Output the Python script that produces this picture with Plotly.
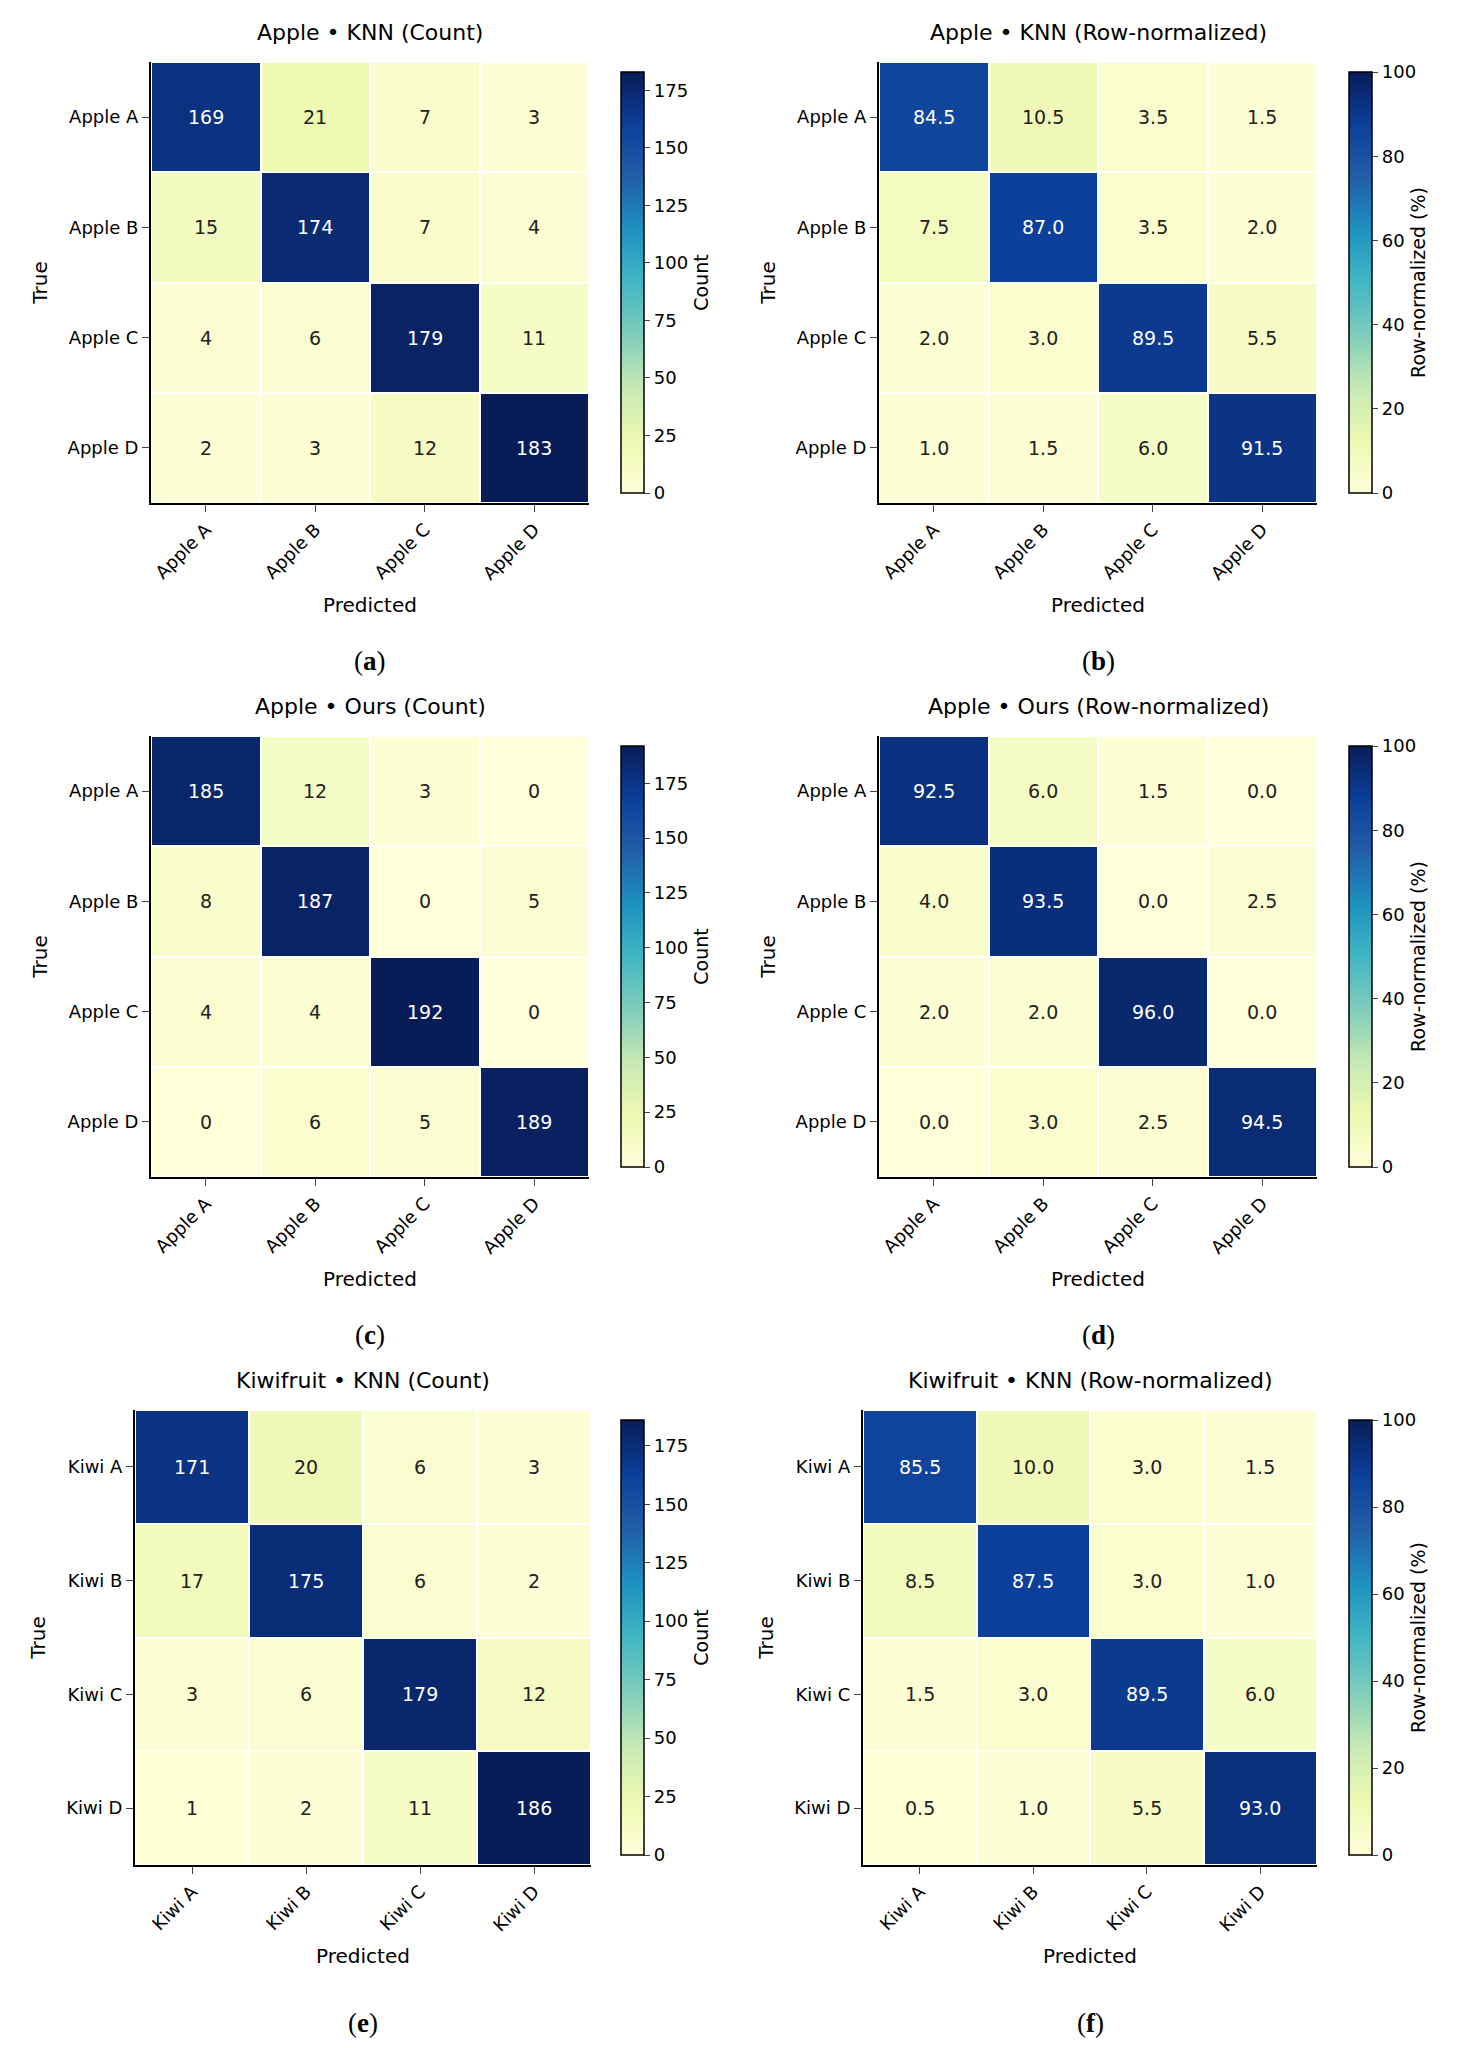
import plotly.graph_objects as go

W, H = 1464, 2048
apple = ["Apple A", "Apple B", "Apple C", "Apple D"]
kiwi = ["Kiwi A", "Kiwi B", "Kiwi C", "Kiwi D"]

apple_knn = [[169, 21, 7, 3], [15, 174, 7, 4], [4, 6, 179, 11], [2, 3, 12, 183]]
apple_knn_n = [[84.5, 10.5, 3.5, 1.5], [7.5, 87.0, 3.5, 2.0], [2.0, 3.0, 89.5, 5.5], [1.0, 1.5, 6.0, 91.5]]
apple_ours = [[185, 12, 3, 0], [8, 187, 0, 5], [4, 4, 192, 0], [0, 6, 5, 189]]
apple_ours_n = [[92.5, 6.0, 1.5, 0.0], [4.0, 93.5, 0.0, 2.5], [2.0, 2.0, 96.0, 0.0], [0.0, 3.0, 2.5, 94.5]]
kiwi_knn = [[171, 20, 6, 3], [17, 175, 6, 2], [3, 6, 179, 12], [1, 2, 11, 186]]
kiwi_knn_n = [[85.5, 10.0, 3.0, 1.5], [8.5, 87.5, 3.0, 1.0], [1.5, 3.0, 89.5, 6.0], [0.5, 1.0, 5.5, 93.0]]

ylgnbu = ["#ffffd9", "#edf8b1", "#c7e9b4", "#7fcdbb", "#41b6c4", "#1d91c0", "#225ea8", "#0c3f9a", "#081d58"]
cs = [[i / 8, c] for i, c in enumerate(ylgnbu)]

panels = [
    ("Apple • KNN (Count)", apple, apple_knn, False, (143, 581), (54, 495), (603, 626), "a"),
    ("Apple • KNN (Row-normalized)", apple, apple_knn_n, True, (871, 1309), (54, 495), (1331, 1354), "b"),
    ("Apple • Ours (Count)", apple, apple_ours, False, (143, 581), (728, 1169), (603, 626), "c"),
    ("Apple • Ours (Row-normalized)", apple, apple_ours_n, True, (871, 1309), (728, 1169), (1331, 1354), "d"),
    ("Kiwifruit • KNN (Count)", kiwi, kiwi_knn, False, (127, 583), (1402, 1857), (603, 626), "e"),
    ("Kiwifruit • KNN (Row-normalized)", kiwi, kiwi_knn_n, True, (855, 1309), (1402, 1857), (1331, 1354), "f"),
]

fig = go.Figure()
ann = []
F = "DejaVu Sans"
for i, (title, labels, z, norm, xr, yr, cb, tag) in enumerate(panels):
    n = i + 1
    xs = "" if n == 1 else str(n)
    zmax = 100 if norm else max(max(r) for r in z)
    text = [[(f"{v:.1f}" if norm else str(v)) for v in r] for r in z]
    fig.add_trace(go.Heatmap(
        z=z, x=labels, y=labels, colorscale=cs, zmin=0, zmax=zmax,
        xgap=2, ygap=2, xaxis="x" + xs, yaxis="y" + xs, showscale=False,
        hoverinfo="skip"))
    fig.add_trace(go.Heatmap(
        z=[[0, zmax]], colorscale=cs, zmin=0, zmax=zmax, opacity=0,
        xaxis="x" + xs, yaxis="y" + xs, hoverinfo="skip", x=[labels[0], labels[0]], y=[labels[0], labels[0]],
        colorbar=dict(x=cb[0] / W, xanchor="left", thickness=cb[1] - cb[0], thicknessmode="pixels",
                      y=1 - yr[1] / H, yanchor="bottom", len=(yr[1] - yr[0]) / H, lenmode="fraction",
                      outlinewidth=1.5, outlinecolor="black", ticks="outside", ticklen=6,
                      tickfont=dict(size=18, family=F, color="black"),
                      dtick=20 if norm else 25,
                      title=dict(text="Row-normalized (%)" if norm else "Count", side="right",
                                 font=dict(size=19, family=F, color="black")))))
    for r in range(4):
        for c in range(4):
            v = z[r][c]
            ann.append(dict(x=labels[c], y=labels[r], xref="x" + xs, yref="y" + xs, text=text[r][c],
                            showarrow=False, font=dict(size=19, family=F,
                                                       color="white" if v > zmax / 2 else "#222")))
    xd = [xr[0] / W, xr[1] / W]
    yd = [1 - yr[1] / H, 1 - yr[0] / H]
    fig.layout["xaxis" + xs] = dict(domain=xd, anchor="y" + xs, tickangle=-45, showline=True, linecolor="black",
                                    linewidth=2, ticks="outside", ticklen=7, tickfont=dict(size=18, family=F, color="black"),
                                    title=dict(text="Predicted", font=dict(size=20, family=F, color="black")),
                                    showgrid=False, zeroline=False)
    fig.layout["yaxis" + xs] = dict(domain=yd, anchor="x" + xs, autorange="reversed", showline=True, linecolor="black",
                                    linewidth=2, ticks="outside", ticklen=7, tickfont=dict(size=18, family=F, color="black"),
                                    title=dict(text="True", font=dict(size=20, family=F, color="black")),
                                    showgrid=False, zeroline=False)
    cx = (xr[0] + xr[1]) / 2 / W
    ann.append(dict(x=cx, y=1 - (yr[0] - 30) / H, xref="paper", yref="paper", text=title, showarrow=False,
                    xanchor="center", font=dict(size=22, family=F, color="black"), yanchor="middle"))
    ann.append(dict(x=cx, y=1 - (yr[1] + 158) / H, xref="paper", yref="paper",
                    text=f"(<b>{tag}</b>)", showarrow=False, xanchor="center",
                    font=dict(size=27, family="Liberation Serif", color="black"), yanchor="middle"))

fig.update_layout(width=W, height=H, margin=dict(l=0, r=0, t=0, b=0), plot_bgcolor="white",
                  paper_bgcolor="white", annotations=ann, showlegend=False)
fig.write_html("out.html")
